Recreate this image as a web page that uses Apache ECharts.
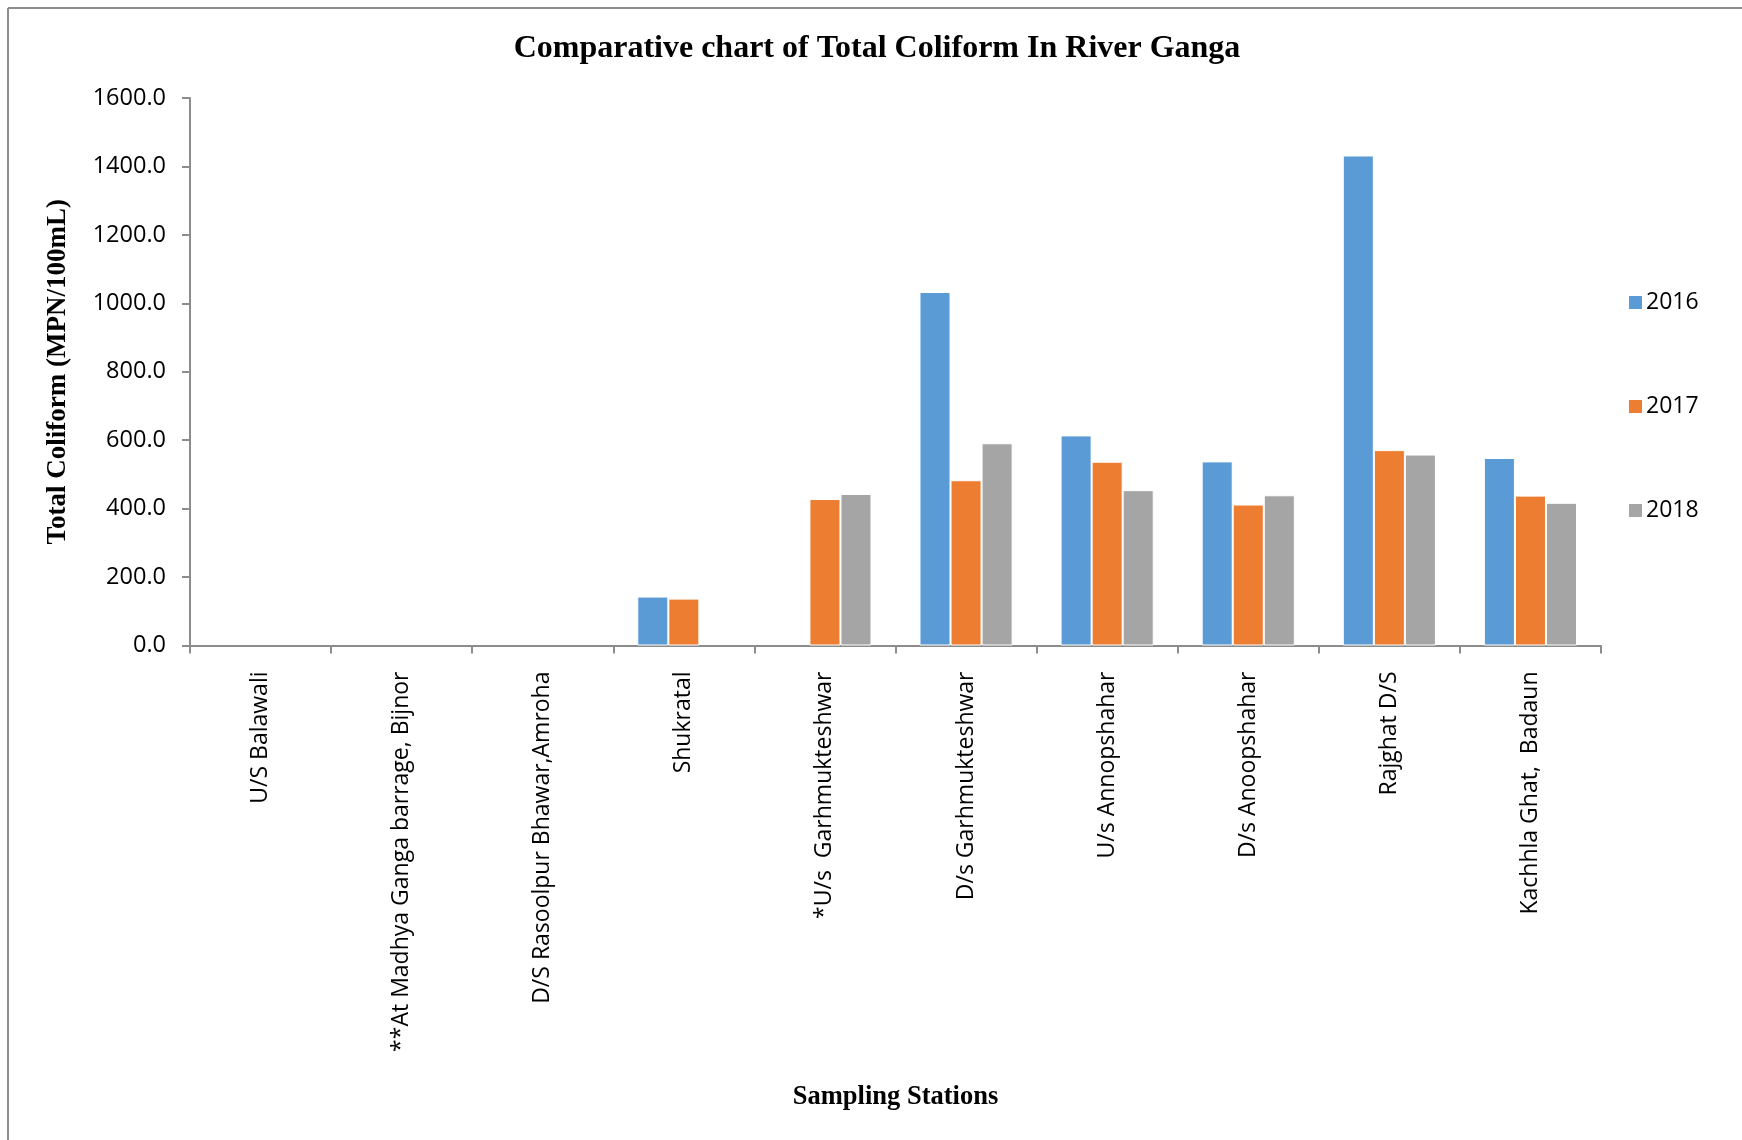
<!DOCTYPE html>
<html>
<head>
<meta charset="utf-8">
<script src="https://cdn.jsdelivr.net/npm/echarts@6/dist/echarts.min.js"></script>
<style>
html,body{margin:0;padding:0;background:#fff;}
#main{width:1742px;height:1140px;}
</style>
</head>
<body>
<div id="main"></div>
<script>
const categories = [
  "U/S Balawali",
  "**At Madhya Ganga barrage, Bijnor",
  "D/S Rasoolpur Bhawar,Amroha",
  "Shukratal",
  "*U/s  Garhmukteshwar",
  "D/s Garhmukteshwar",
  "U/s Annopshahar",
  "D/s Anoopshahar",
  "Rajghat D/S",
  "Kachhla Ghat,  Badaun"
];
const seriesNames = ["2016", "2017", "2018"];
const values2016 = [null, null, null, 143, null, 1033, 614, 538, 1432, 548];
const values2017 = [null, null, null, 137, 428, 483, 537, 412, 571, 438];
const values2018 = [null, null, null, null, 443, 591, 454, 439, 558, 417];
const yTicks = [0, 200, 400, 600, 800, 1000, 1200, 1400, 1600];

const colors = ["#5B9BD5", "#ED7D31", "#A5A5A5"];
const chart = echarts.init(document.getElementById('main'), null, {renderer: 'canvas'});
const dataSets = [values2016, values2017, values2018];

const option = {
  backgroundColor: '#ffffff',
  animation: false,
  color: colors,
  title: {
    text: 'Comparative chart of Total Coliform In River Ganga',
    left: 872, top: 28, textAlign: 'center',
    textStyle: {fontFamily: 'Liberation Serif', fontWeight: 'bold', fontSize: 32, color: '#000'}
  },
  legend: {
    orient: 'vertical',
    left: 1622, top: 286,
    itemWidth: 15, itemHeight: 15, itemGap: 81,
    icon: 'rect',
    textStyle: {fontFamily: 'Open Sans', fontSize: 23, color: '#000', padding: [0,0,0,-2]},
    data: seriesNames
  },
  grid: {left: 190, right: 141, top: 98, bottom: 494.5, containLabel: false},
  xAxis: {
    type: 'category',
    data: categories,
    name: 'Sampling Stations',
    nameLocation: 'middle',
    nameGap: 438,
    nameTextStyle: {fontFamily: 'Liberation Serif', fontWeight: 'bold', fontSize: 26.5, color: '#000'},
    axisLine: {lineStyle: {color: '#8c8c8c', width: 2}},
    axisTick: {show: true, length: 8, alignWithLabel: false, lineStyle: {color: '#8c8c8c', width: 2}},
    axisLabel: {rotate: 90, interval: 0, margin: 26, fontFamily: 'Open Sans', fontSize: 23, color: '#000'}
  },
  yAxis: {
    type: 'value',
    min: 0, max: 1600, interval: 200,
    name: 'Total Coliform (MPN/100mL)',
    nameLocation: 'middle',
    nameGap: 118,
    nameTextStyle: {fontFamily: 'Liberation Serif', fontWeight: 'bold', fontSize: 27, color: '#000'},
    axisLine: {show: true, lineStyle: {color: '#8c8c8c', width: 2}},
    axisTick: {show: true, length: 8, lineStyle: {color: '#8c8c8c', width: 2}},
    splitLine: {show: false},
    axisLabel: {margin: 24, fontFamily: 'Open Sans', fontSize: 23.5, color: '#000',
      formatter: v => yTicks.indexOf(v) >= 0 ? v.toFixed(1) : ''}
  },
  series: seriesNames.map((n, i) => ({
    name: n,
    type: 'bar',
    data: dataSets[i],
    barWidth: '22%',
    barGap: '0%',
    itemStyle: {color: colors[i], borderColor: '#ffffff', borderWidth: 1}
  })),
  graphic: [
    {type: 'line', shape: {x1: 8, y1: 8, x2: 1742, y2: 8}, style: {stroke: '#8c8c8c', lineWidth: 2}},
    {type: 'line', shape: {x1: 8, y1: 8, x2: 8, y2: 1140}, style: {stroke: '#8c8c8c', lineWidth: 2}}
  ]
};
chart.setOption(option);
</script>
</body>
</html>
